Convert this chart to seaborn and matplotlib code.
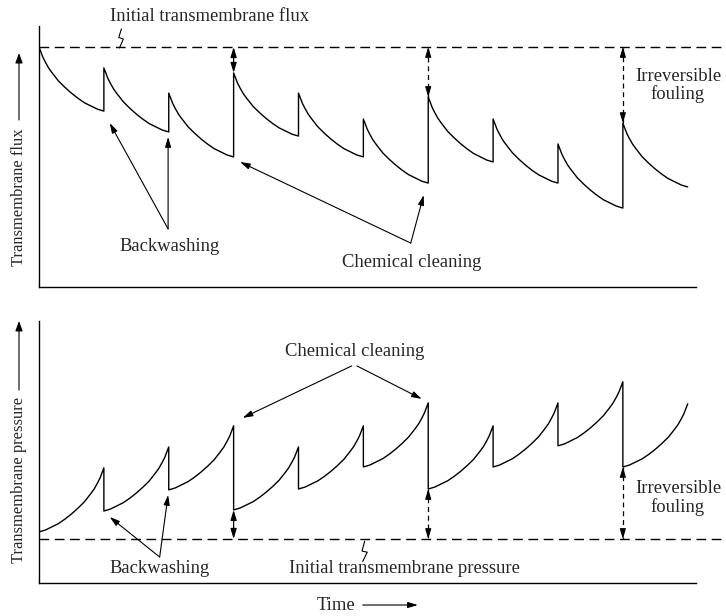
import numpy as np
import pandas as pd
import matplotlib
matplotlib.use("Agg")
import matplotlib.pyplot as plt
import seaborn as sns

# --- data (arbitrary units) ---
cycle_edges = [0, 1, 2, 3, 4, 5, 6, 7, 8, 9, 10]

# flux at the start / end of each filtration cycle
flux_start = [10.0, 9.13, 8.08, 8.92, 8.08, 7.0, 7.92, 7.0, 5.96, 6.83]
flux_end = [7.33, 6.46, 5.42, 6.29, 5.42, 4.33, 5.21, 4.33, 3.29, 4.17]
flux_initial = 10.0

# pressure at the start / end of each cycle
pressure_start = [2.32, 3.27, 4.23, 3.32, 4.27, 5.27, 4.27, 5.27, 6.23, 5.27]
pressure_end = [5.23, 6.18, 7.14, 6.18, 7.14, 8.18, 7.14, 8.18, 9.14, 8.14]
pressure_initial = 2.0

# shape of one cycle (fraction of the change vs fraction of the cycle)
flux_shape_t = [0, 0.03, 0.06, 0.1, 0.15, 0.2, 0.3, 0.4, 0.5, 0.6, 0.7, 0.8, 0.9, 1.0]
flux_shape_f = [0, 0.08, 0.16, 0.24, 0.33, 0.40, 0.53, 0.63, 0.72, 0.80, 0.87, 0.92, 0.97, 1.0]
pres_shape_t = [0, 0.1, 0.2, 0.3, 0.4, 0.5, 0.6, 0.7, 0.8, 0.85, 0.9, 0.94, 0.97, 1.0]
pres_shape_f = [0, 0.03, 0.08, 0.13, 0.20, 0.28, 0.37, 0.47, 0.60, 0.67, 0.76, 0.84, 0.92, 1.0]

# cycles where chemical cleaning / irreversible fouling is marked
flux_marks = [3, 6, 9]
pres_marks = [3, 6, 9]


def build_frame(starts, ends, shape_t, shape_f, name):
    rows = []
    for i in range(len(starts)):
        x0, x1 = cycle_edges[i], cycle_edges[i + 1]
        for t, f in zip(shape_t, shape_f):
            rows.append((x0 + (x1 - x0) * t, starts[i] + (ends[i] - starts[i]) * f))
    return pd.DataFrame(rows, columns=["time", name])


df_flux = build_frame(flux_start, flux_end, flux_shape_t, flux_shape_f, "flux")
df_pres = build_frame(pressure_start, pressure_end, pres_shape_t, pres_shape_f, "pressure")

sns.set_theme(style="white")
plt.rcParams["font.family"] = ["Liberation Serif", "DejaVu Serif"]
FS = 13.4
FS_Y = 11.9

fig = plt.figure(figsize=(7.26, 6.16), dpi=100)
ax1 = fig.add_axes([39 / 726, 1 - 287 / 616, 1 - 39 / 726, 261 / 616])
ax2 = fig.add_axes([39 / 726, 1 - 583 / 616, 1 - 39 / 726, 262 / 616])

sns.lineplot(data=df_flux, x="time", y="flux", sort=False, estimator=None,
             color="black", lw=1.0, ax=ax1)
sns.lineplot(data=df_pres, x="time", y="pressure", sort=False, estimator=None,
             color="black", lw=1.0, ax=ax2)

ax1.set_ylim(0, 10.875)
ax2.set_ylim(0, 11.9)
for ax in (ax1, ax2):
    ax.set_xlim(0, 10.59)
    ax.set_xticks([])
    ax.set_yticks([])
    ax.set_xlabel("")
    ax.set_ylabel("")
    ax.patch.set_alpha(0)
    for s in ("top", "right"):
        ax.spines[s].set_visible(False)
    for s in ("left", "bottom"):
        ax.spines[s].set_color("black")
        ax.spines[s].set_linewidth(1.0)
    ax.spines["bottom"].set_bounds(0, 10.12)

ax1.axhline(flux_initial, color="black", lw=1.0, ls=(0, (7, 4)))
ax2.axhline(pressure_initial, color="black", lw=1.0, ls=(0, (7, 4)))

head = "-|>,head_length=0.5,head_width=0.15"
arrow_kw = dict(arrowstyle=head, color="black", lw=0.8, shrinkA=0, shrinkB=0)


def arrow(ax, xy, xytext):
    ax.annotate("", xy=xy, xytext=xytext, arrowprops=arrow_kw, annotation_clip=False)


def fouling_arrow(ax, x, y_a, y_b, dashed):
    if dashed:
        ax.plot([x, x], [y_a, y_b], color="black", lw=0.9, ls=(0, (4, 3)))
        d = 0.04 * (y_b - y_a)
        arrow(ax, (x, y_a), (x, y_a + d * 3))
        arrow(ax, (x, y_b), (x, y_b - d * 3))
    else:
        ax.annotate("", xy=(x, y_b), xytext=(x, y_a),
                    arrowprops=dict(arrowstyle="<|-|>,head_length=0.5,head_width=0.15",
                                    color="black", lw=0.9, shrinkA=0, shrinkB=0))


# --- top panel annotations ---
ax1.text(2.63, 11.29, "Initial transmembrane flux", fontsize=FS, ha="center", va="center")
ax1.plot([1.27, 1.23, 1.30, 1.24], [10.75, 10.40, 10.33, 9.96], color="black", lw=0.8,
         clip_on=False)
for k, c in enumerate(flux_marks):
    fouling_arrow(ax1, cycle_edges[c], flux_start[c], flux_initial, dashed=(k > 0))
ax1.text(9.85, 8.4, "Irreversible\nfouling", fontsize=FS, ha="center", va="center",
         linespacing=1.05)

ax1.text(2.02, 1.67, "Backwashing", fontsize=FS, ha="center", va="center")
arrow(ax1, (1.09, 6.83), (1.99, 2.42))
arrow(ax1, (1.99, 6.25), (1.99, 2.42))

ax1.text(5.75, 1.0, "Chemical cleaning", fontsize=FS, ha="center", va="center")
arrow(ax1, (3.10, 5.21), (5.73, 1.83))
arrow(ax1, (5.93, 3.83), (5.73, 1.83))

# --- bottom panel annotations ---
ax2.text(4.87, 10.5, "Chemical cleaning", fontsize=FS, ha="center", va="center")
arrow(ax2, (3.14, 7.5), (4.82, 9.86))
arrow(ax2, (5.90, 8.36), (4.90, 9.86))

for k, c in enumerate(pres_marks):
    fouling_arrow(ax2, cycle_edges[c], pressure_start[c], pressure_initial, dashed=(k > 0))
ax2.text(9.85, 3.86, "Irreversible\nfouling", fontsize=FS, ha="center", va="center",
         linespacing=1.05)

ax2.text(1.86, 0.64, "Backwashing", fontsize=FS, ha="center", va="center")
arrow(ax2, (1.09, 3.0), (1.86, 1.18))
arrow(ax2, (1.99, 4.0), (1.86, 1.18))

ax2.text(5.64, 0.64, "Initial transmembrane pressure", fontsize=FS, ha="center", va="center")
ax2.plot([5.02, 4.98, 5.06, 4.99], [1.90, 1.45, 1.40, 0.98], color="black", lw=0.8)

# time label with arrow
ax2.text(4.58, -1.0, "Time", fontsize=FS, ha="center", va="center", clip_on=False)
arrow(ax2, (5.84, -1.0), (4.99, -1.0))

# rotated y labels with arrows
fig.text(19 / 726, 1 - 197 / 616, "Transmembrane flux", rotation=90, fontsize=FS_Y,
         ha="center", va="center")
fig.text(19 / 726, 1 - 480 / 616, "Transmembrane pressure", rotation=90, fontsize=FS_Y,
         ha="center", va="center")
for y0, y1 in ((120, 53), (390, 321)):
    fig.add_artist(matplotlib.patches.FancyArrowPatch(
        (19 / 726, 1 - y0 / 616), (19 / 726, 1 - y1 / 616), transform=fig.transFigure,
        arrowstyle="-|>,head_length=6,head_width=2.2", color="black", lw=0.8,
        shrinkA=0, shrinkB=0))

fig.savefig("out.png", dpi=100, facecolor="white")
